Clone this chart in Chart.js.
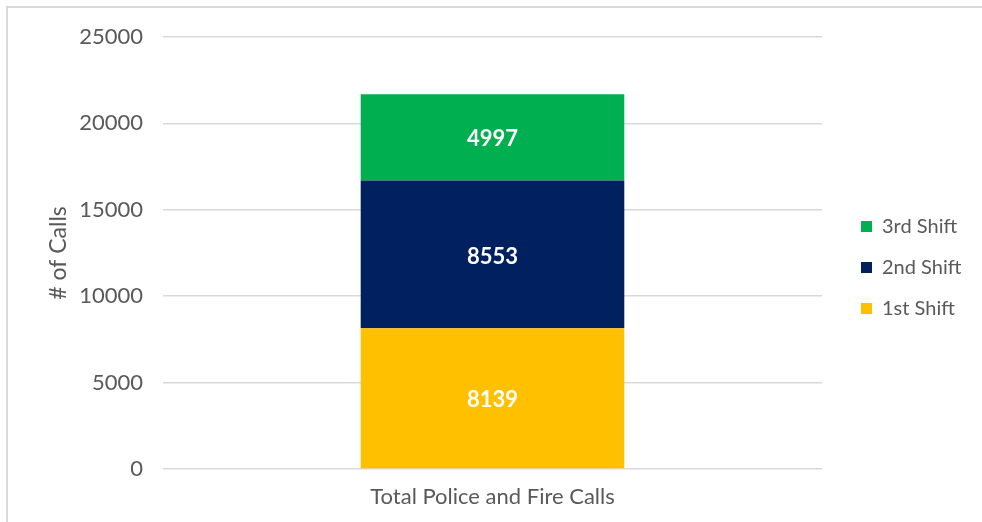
<!DOCTYPE html>
<html>
<head>
<meta charset="utf-8">
<script src="https://cdn.jsdelivr.net/npm/chart.js@4.4.1/dist/chart.umd.min.js"></script>
<style>
  html, body { margin: 0; padding: 0; background: #fff; overflow: hidden; }
  #wrap { position: relative; width: 982px; height: 522px; }
  #frame { position: absolute; left: 6px; top: 6px; width: 1000px; height: 540px; border: 2px solid #d9d9d9; box-sizing: border-box; }
  canvas { position: absolute; left: 0; top: 0; }
</style>
</head>
<body>
<div id="wrap">
  <div id="frame"></div>
  <canvas id="myChart" width="982" height="522"></canvas>
</div>
<script>
const categories = ["Total Police and Fire Calls"];
const shiftNames = ["1st Shift", "2nd Shift", "3rd Shift"];
const shiftValues = [[8139], [8553], [4997]];
const shiftColors = ["#ffc000", "#002060", "#00b050"];
const yTicks = [0, 5000, 10000, 15000, 20000, 25000];

const fontName = "Lato, 'Open Sans', sans-serif";
const grey = "#595959";

// white numbers in the middle of each piece of the bar
const barLabels = {
  id: "barLabels",
  afterDatasetsDraw(chart) {
    const ctx = chart.ctx;
    ctx.save();
    ctx.fillStyle = "#fff";
    ctx.font = "bold 22px " + fontName;
    ctx.textAlign = "center";
    ctx.textBaseline = "middle";
    chart.data.datasets.forEach((ds, i) => {
      chart.getDatasetMeta(i).data.forEach((bar, j) => {
        const mid = (bar.y + bar.base) / 2 + 2;
        ctx.fillText(ds.data[j], bar.x, mid);
      });
    });
    ctx.restore();
  }
};

// legend sits further right than chart.js puts it
const legendPlace = {
  id: "legendPlace",
  beforeInit(chart) {
    const fit = chart.legend.fit;
    chart.legend.fit = function () {
      fit.call(this);
      this.width = 160;
    };
  },
  afterLayout(chart) {
    chart.legend.left += 18;
    chart.legend.top -= 12;
    chart.legend.bottom -= 12;
  }
};

const ctx = document.getElementById("myChart").getContext("2d");
const myChart = new Chart(ctx, {
  type: "bar",
  data: {
    labels: categories,
    datasets: shiftNames.map((name, i) => ({
      label: name,
      data: shiftValues[i],
      backgroundColor: shiftColors[i],
      borderWidth: 0,
      barPercentage: 0.4,
      categoryPercentage: 1
    }))
  },
  options: {
    responsive: false,
    animation: false,
    layout: { padding: { left: 41, top: 37, right: 0, bottom: 0 } },
    plugins: {
      tooltip: { enabled: false },
      legend: {
        position: "right",
        reverse: true,
        labels: {
          boxWidth: 11,
          boxHeight: 11,
          padding: 21,
          color: grey,
          font: { family: fontName, size: 20 }
        }
      }
    },
    scales: {
      x: {
        stacked: true,
        grid: { display: false, drawTicks: false },
        border: { display: false },
        ticks: { color: grey, padding: 15, font: { family: fontName, size: 22 } },
        afterFit(scale) { scale.height = 53; }
      },
      y: {
        stacked: true,
        min: 0,
        max: 25000,
        afterBuildTicks(scale) { scale.ticks = yTicks.map(v => ({ value: v })); },
        grid: { color: "#d9d9d9", lineWidth: 1.5, drawTicks: false },
        border: { display: false },
        ticks: {
          color: grey,
          padding: 20,
          font: { family: fontName, size: 22 },
          callback: (v) => String(v)
        },
        title: { display: true, text: "# of Calls", color: grey, font: { family: fontName, size: 23 } },
        afterFit(scale) { scale.width = 122; }
      }
    }
  },
  plugins: [barLabels, legendPlace]
});
</script>
</body>
</html>
